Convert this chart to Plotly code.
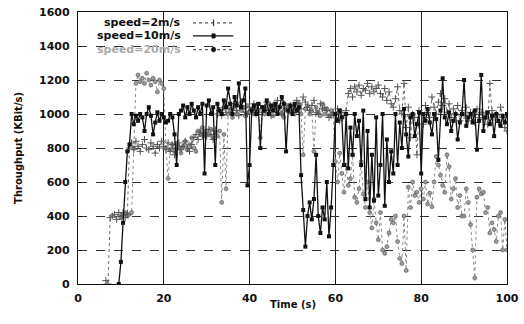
import plotly.graph_objects as go

STEP = 0.5

# speed = 2 m/s (starts at t = 6.5 s)
t0_2 = 6.5
v_2 = [
    20, 0, 390, 400, 410, 380, 420,
    400, 420, 390, 410, 800, 830, 790, 840, 810, 780, 820, 850, 800, 790, 830, 810, 770, 820, 800, 840,
    810, 790, 830, 780, 820, 760, 800, 830, 790, 810, 840, 800, 780, 820, 860, 880, 850, 900, 870, 890,
    870, 910, 880, 850, 900, 1000, 1020, 990, 1040, 1010, 1050, 1030, 1000, 1060, 1020, 990, 1050, 1030, 1010, 1000,
    1040, 1020, 1060, 1000, 1030, 1050, 1010, 1040, 1070, 1020, 990, 1050, 1030, 1080, 1040, 1000, 1060, 1030, 1020, 1050,
    1010, 1040, 1080, 1060, 1030, 1100, 1070, 1040, 1020, 1050, 1080, 1010, 1000, 1060, 1030, 1040, 1020, 980, 990, 1010,
    1000, 1030, 960, 1010, 990, 1020, 1120, 1150, 1100, 1160, 1130, 1170, 1110, 1150, 1140, 1180, 1120, 1160, 1130, 1150,
    1170, 1120, 1100, 1150, 1080, 1130, 1060, 1040, 1090, 1160, 1020, 1000, 1180, 920, 1040, 860, 1000, 980, 760, 1020,
    1000, 940, 1050, 1010, 980, 1100, 1040, 1000, 1070, 1120, 1050, 1090, 1010, 1060, 980, 1030, 1000, 1050, 960, 1020,
    990, 1040, 960, 1010, 1000, 950, 1030, 980, 1010, 970, 1000, 940, 1180, 1020, 980, 1000, 950, 1040, 980, 920,
    900,
]

# speed = 10 m/s (starts at t = 9.5 s)
t0_10 = 9.5
v_10 = [
    0,
    130, 360, 600, 780, 820, 1000, 940, 990, 960, 1000, 980, 900, 1000, 1040, 990, 880, 950, 1010, 960, 1000,
    980, 950, 960, 1000, 980, 880, 700, 1000, 1020, 1050, 980, 1040, 1000, 1060, 1020, 980, 1040, 1000, 1060, 650,
    1050, 1080, 1000, 1040, 700, 1060, 1020, 1000, 1080, 1040, 1150, 1060, 1000, 1100, 1050, 1180, 1040, 1080, 1150, 580,
    700, 1020, 1050, 1000, 1060, 800, 1040, 1020, 1080, 1000, 1050, 1020, 1060, 1000, 1040, 1100, 1060, 780, 1020, 1050,
    1000, 1060, 1020, 1040, 640, 435, 220, 400, 480, 380, 500, 760, 400, 300, 450, 380, 600, 280, 450, 700,
    1000, 960, 1020, 980, 700, 1000, 680, 920, 760, 1000, 870, 960, 700, 1020, 500, 900, 450, 760, 490, 980,
    520, 700, 1000, 460, 850, 600, 780, 650, 1000, 700, 950, 800, 1030, 880, 750, 980, 1000, 870, 940, 1010,
    650, 1000, 960, 1030, 950, 880, 1000, 970, 730, 1020, 1210, 980, 940, 1010, 900, 960, 1000, 850, 950, 1000,
    1200, 930, 980, 1000, 950, 1020, 790, 960, 1230, 900, 980, 1010, 940, 990, 870, 1000, 960, 930, 990, 950,
    1000,
]

# speed = 20 m/s (starts at t = 10 s)
t0_20 = 10.0
v_20 = [
    390, 410, 420, 400, 410, 420, 800, 1180, 1230, 1190, 1210, 1180, 1240, 1200, 1170, 1210, 1190, 1130, 1200, 1180,
    1150, 800, 620, 790, 820, 780, 830, 800, 770, 810, 840, 790, 820, 860, 800, 780, 900, 880, 920, 870,
    900, 880, 910, 860, 890, 870, 900, 480, 880, 560, 1000, 1020, 980, 1040, 1000, 1060, 1020, 1040, 990, 1050,
    1010, 1030, 1000, 1050, 1020, 860, 1040, 1000, 1030, 1060, 1020, 990, 1050, 1010, 1040, 1000, 980, 1030, 1050, 1010,
    1040, 1000, 1020, 1060, 1000, 760, 1030, 1050, 1000, 1020, 780, 1040, 1010, 990, 1060, 1000, 1030, 990, 1020, 1000,
    720, 600, 770, 650, 540, 700, 580, 620, 760, 510, 480, 560, 720, 530, 450, 600, 420, 330, 500, 360,
    260, 420, 200, 180, 220, 300, 380, 360, 400, 250, 150, 120, 400, 80, 570, 450, 600, 520, 540, 480,
    560, 500, 600, 470, 535, 455, 600, 750, 700, 640, 580, 540, 760, 690, 500, 560, 620, 450, 520, 400,
    400, 560, 480, 350, 200, 35, 510, 560, 530, 540, 420, 450, 300, 360, 320, 250, 400, 420, 200, 380,
    200,
]

x_ticks = [0, 20, 40, 60, 80, 100]
y_ticks = [0, 200, 400, 600, 800, 1000, 1200, 1400, 1600]
names = ["speed=2m/s", "speed=10m/s", "speed=20m/s"]
x_title = "Time (s)"
y_title = "Throughput (KBit/s)"


def times(t0, n):
    return [t0 + STEP * i for i in range(n)]


FONT = "DejaVu Sans"
fig = go.Figure()

fig.add_trace(go.Scatter(
    x=times(t0_20, len(v_20)), y=v_20, mode="lines+markers", name=names[2],
    line=dict(color="#8a8a8a", width=1, dash="dot"),
    marker=dict(symbol="circle", size=4, color="#9a9a9a", line=dict(color="#555", width=0.6)),
    showlegend=False,
))
fig.add_trace(go.Scatter(
    x=times(t0_2, len(v_2)), y=v_2, mode="lines+markers", name=names[0],
    line=dict(color="#6a6a6a", width=1, dash="dot"),
    marker=dict(symbol="cross-thin", size=5, line=dict(color="#555", width=1)),
    showlegend=False,
))
fig.add_trace(go.Scatter(
    x=times(t0_10, len(v_10)), y=v_10, mode="lines+markers", name=names[1],
    line=dict(color="#111", width=1.3),
    marker=dict(symbol="square", size=4, color="#111"),
    showlegend=False,
))

# legend (gnuplot style: text on the left, sample on the right)
leg_y = [0.96, 0.912, 0.862]
leg_col = ["#111", "#111", "#aaaaaa"]
leg_dash = ["dot", "solid", "dot"]
leg_lc = ["#555", "#111", "#666"]
for i in range(3):
    fig.add_annotation(xref="paper", yref="paper", x=0.245, y=leg_y[i], text=f"<b>{names[i]}</b>",
                       showarrow=False, xanchor="right", yanchor="middle",
                       font=dict(family=FONT, size=11, color=leg_col[i]))
    fig.add_shape(type="line", xref="paper", yref="paper", x0=0.268, x1=0.362, y0=leg_y[i], y1=leg_y[i],
                  line=dict(color=leg_lc[i], width=1.2, dash=leg_dash[i]))
# legend sample markers: plus, square, circle
fig.add_shape(type="line", xref="paper", yref="paper", x0=0.316, x1=0.316,
              y0=leg_y[0] - 0.012, y1=leg_y[0] + 0.012, line=dict(color="#333", width=1.2))
fig.add_shape(type="rect", xref="paper", yref="paper", x0=0.312, x1=0.320,
              y0=leg_y[1] - 0.008, y1=leg_y[1] + 0.008,
              line=dict(color="#111", width=0.5), fillcolor="#111")
fig.add_shape(type="circle", xref="paper", yref="paper", x0=0.311, x1=0.321,
              y0=leg_y[2] - 0.009, y1=leg_y[2] + 0.009,
              line=dict(color="#111", width=0.5), fillcolor="#111")

# axis titles
fig.add_annotation(xref="paper", yref="paper", x=0.5, y=-0.077, text=f"<b>{x_title}</b>",
                   showarrow=False, xanchor="center", yanchor="middle",
                   font=dict(family=FONT, size=10, color="#111"))
fig.add_annotation(xref="paper", yref="paper", x=-0.14, y=0.5, text=f"<b>{y_title}</b>",
                   showarrow=False, xanchor="center", yanchor="middle", textangle=-90,
                   font=dict(family=FONT, size=10, color="#111"))

fig.update_layout(
    width=524, height=324,
    margin=dict(l=78, r=17, t=12, b=40, autoexpand=False),
    paper_bgcolor="white", plot_bgcolor="white",
    font=dict(family=FONT, color="#111"),
    showlegend=False,
)
fig.update_xaxes(
    range=[0, 100], tickvals=x_ticks, ticktext=[f"<b>{v}</b>" for v in x_ticks],
    tickfont=dict(size=11), ticks="inside", ticklen=4, tickcolor="#111", ticklabelstandoff=4,
    ticklabeloverflow="allow",
    showgrid=True, gridcolor="#222", gridwidth=1.3, automargin=False,
    showline=True, linecolor="#111", linewidth=1.3, mirror=True, zeroline=False,
)
fig.update_yaxes(
    range=[0, 1600], tickvals=y_ticks, ticktext=[f"<b>{v}</b>" for v in y_ticks],
    tickfont=dict(size=11), ticks="inside", ticklen=4, tickcolor="#111", ticklabelstandoff=5,
    ticklabeloverflow="allow",
    showgrid=True, gridcolor="#333", gridwidth=1, griddash="dash", automargin=False,
    showline=True, linecolor="#111", linewidth=1.3, mirror=True, zeroline=False,
)

# remove the default page margin so the 524x324 figure fills the window exactly
fig.write_html("out.html", config={"displayModeBar": False},
               post_script="document.body.style.margin='0';")
